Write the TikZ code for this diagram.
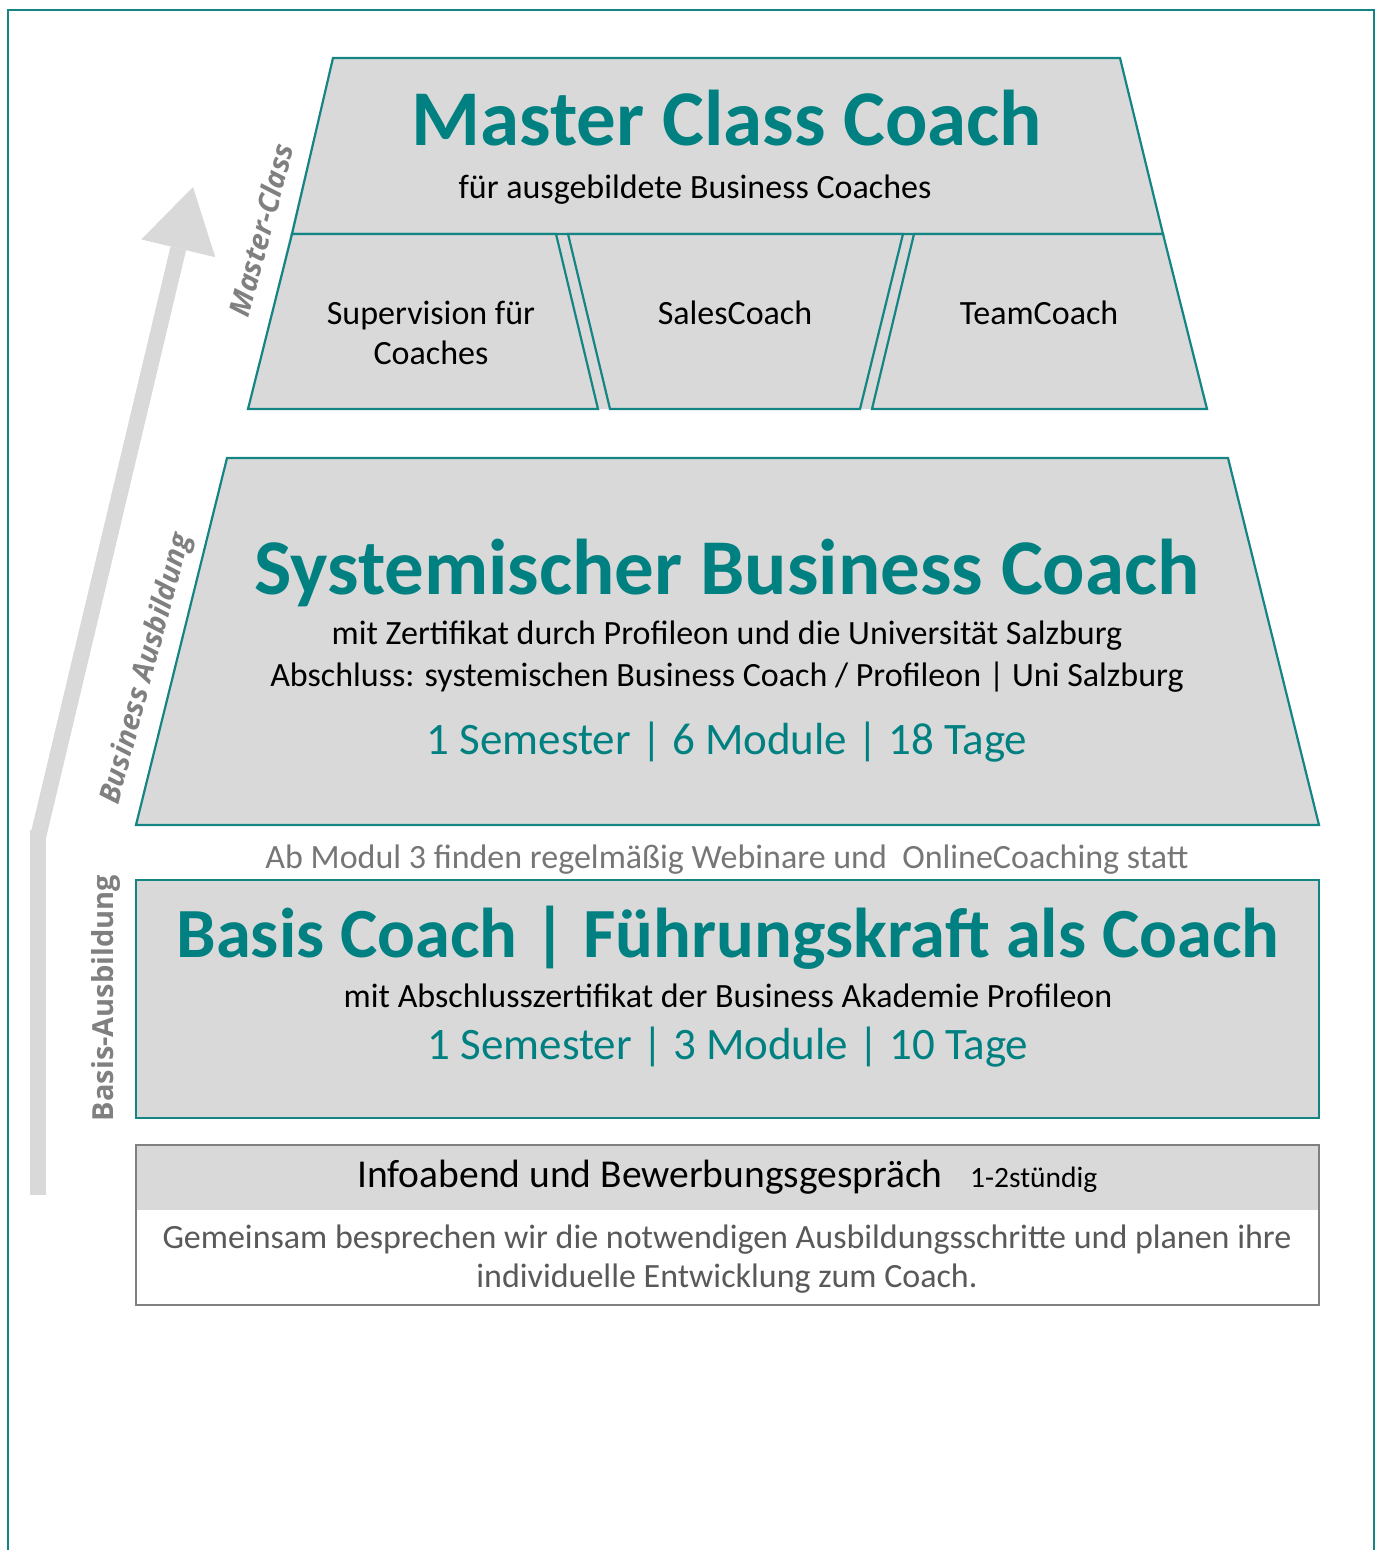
\documentclass[tikz,border=0pt]{standalone}
\usepackage{fontspec}
\setmainfont{Carlito}
\newfontfamily\labfont{Open Sans}
\definecolor{tealtxt}{RGB}{0,128,128}
\definecolor{tealline}{RGB}{20,132,132}
\definecolor{boxfill}{RGB}{217,217,217}
\definecolor{arrowgray}{RGB}{217,217,217}
\definecolor{labgray}{RGB}{128,128,128}
\definecolor{notegray}{RGB}{118,118,118}
\definecolor{bodygray}{RGB}{89,89,89}
\definecolor{infoline}{RGB}{128,128,128}
\tikzset{
  shapebox/.style={fill=boxfill,draw=tealline,line width=2.2pt,line join=miter},
  txt/.style={inner sep=0pt,anchor=base},
  bigtitle/.style={txt,text=tealtxt,font=\fontsize{79}{86}\selectfont\bfseries},
  sub/.style={txt,text=black,font=\fontsize{34}{40}\selectfont},
  facts/.style={txt,text=tealtxt,font=\fontsize{45}{50}\selectfont},
  sidelab/.style={inner sep=0pt,text=labgray,font=\labfont\fontsize{29}{32}\selectfont\bfseries},
  sidelabit/.style={sidelab,font=\labfont\fontsize{29}{32}\selectfont\bfseries\itshape},
}
\begin{document}
\begin{tikzpicture}[x=1pt,y=-1pt]
\useasboundingbox (0,0) rectangle (1380,1550);
% frame
\draw[tealline,line width=2pt] (8,1552) -- (8,10) -- (1374,10) -- (1374,1552);

% arrow
\fill[arrowgray] (30,830) rectangle (46,1195);
\draw[arrowgray,line width=16pt] (37.8,838) -- (178.3,248.3);
\fill[arrowgray] (141.3,239.4) -- (193,187) -- (215.3,257.2) -- cycle;

% master class
\fill[boxfill] (333,58) -- (1120,58) -- (1207,409) -- (248,409) -- cycle;
\path[shapebox] (333,58) -- (1120,58) -- (1163,234) -- (292,234) -- cycle;
\path[shapebox] (292,234) -- (556,234) -- (598,409) -- (248,409) -- cycle;
\path[shapebox] (568,234) -- (903,234) -- (860,409) -- (610,409) -- cycle;
\path[shapebox] (914,234) -- (1163,234) -- (1207,409) -- (872,409) -- cycle;
\node[bigtitle] (mct) at (727,145) {Master Class Coach};
\node[sub] (mcs) at (695,198) {für ausgebildete Business Coaches};
\node[sub] (sup1) at (431,324) {Supervision für};
\node[sub] (sup2) at (431,364) {Coaches};
\node[sub] (sales) at (735,324) {SalesCoach};
\node[sub] (team) at (1039,324) {TeamCoach};

% business
\path[shapebox] (227,458) -- (1228,458) -- (1319,825) -- (136,825) -- cycle;
\node[bigtitle] (sbt) at (727,594) {Systemischer Business Coach};
\node[sub] (sb1) at (727,644) {mit Zertifikat durch Profileon und die Universität Salzburg};
\node[sub] (sb2) at (727,686) {Abschluss: systemischen Business Coach / Profileon | Uni Salzburg};
\node[facts] (sbf) at (727,754) {1 Semester | 6 Module | 18 Tage};

\node[txt,text=notegray,font=\fontsize{34}{40}\selectfont] (note) at (727,868) {Ab Modul 3 finden regelmäßig Webinare und\ \ OnlineCoaching statt};

% basis
\path[shapebox] (136,880) rectangle (1319,1118);
\node[bigtitle,font=\fontsize{70.5}{76}\selectfont\bfseries] (bct) at (728,957) {Basis Coach | Führungskraft als Coach};
\node[sub] (bc1) at (728,1007) {mit Abschlusszertifikat der Business Akademie Profileon};
\node[facts] (bcf) at (728,1059) {1 Semester | 3 Module | 10 Tage};

% info
\fill[boxfill] (136,1145) rectangle (1319,1210);
\draw[infoline,line width=2pt] (136,1145) rectangle (1319,1305);
\node[txt,anchor=base west,font=\fontsize{39.5}{44}\selectfont] (info) at (357,1187) {Infoabend und Bewerbungsgespräch};
\node[txt,anchor=base west,font=\fontsize{29.5}{34}\selectfont] (dur) at (970,1187) {1-2stündig};
\node[txt,text=bodygray,font=\fontsize{34}{38}\selectfont] (g1) at (727,1248) {Gemeinsam besprechen wir die notwendigen Ausbildungsschritte und planen ihre};
\node[txt,text=bodygray,font=\fontsize{34}{38}\selectfont] (g2) at (727,1287) {individuelle Entwicklung zum Coach.};

% side labels
\node[sidelabit,rotate=75] (lab1) at (261,230) {Master-Class};
\node[sidelabit,rotate=75] (lab2) at (147,669) {Business Ausbildung};
\node[sidelab,rotate=90] (lab3) at (106,998) {Basis-Ausbildung};
\end{tikzpicture}
\end{document}
